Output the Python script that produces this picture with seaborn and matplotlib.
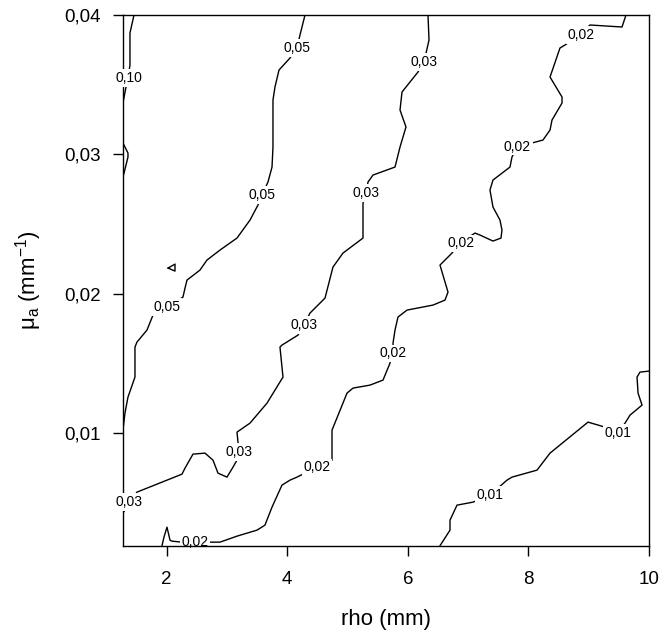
import matplotlib
matplotlib.use("Agg")
import matplotlib.pyplot as plt
import seaborn as sns

# ---------------- data (rho in mm, mu_a in 1/mm) ----------------
x_ticks = [2, 4, 6, 8, 10]
x_tick_labels = ["2", "4", "6", "8", "10"]
y_ticks = [0.01, 0.02, 0.03, 0.04]
y_tick_labels = ["0,01", "0,02", "0,03", "0,04"]

# contour 0.10
c010_x = [1.458, 1.391, 1.391, 1.358, 1.325, 1.275]
c010_y = [0.0400, 0.03871, 0.03641, 0.03548, 0.03483, 0.03369]
c010b_x = [1.275, 1.358, 1.358, 1.292, 1.275]
c010b_y = [0.03082, 0.03010, 0.02981, 0.02866, 0.02840]

# contour 0.05
c005_x = [4.294, 4.211, 4.161, 4.045, 3.863, 3.796, 3.763, 3.763, 3.747, 3.680,
          3.581, 3.514, 3.382, 3.166, 2.884, 2.668, 2.552, 2.337, 2.304, 2.270,
          2.005, 1.773, 1.673, 1.507, 1.474, 1.474, 1.358, 1.308, 1.275]
c005_y = [0.04, 0.038565, 0.037633, 0.036915, 0.036055, 0.034835, 0.033902, 0.030531,
          0.029096, 0.028020, 0.027088, 0.026370, 0.025294, 0.024003, 0.023142,
          0.022425, 0.021707, 0.020990, 0.020416, 0.019771, 0.019053, 0.018479,
          0.017403, 0.016542, 0.016184, 0.014032, 0.012597, 0.011449, 0.010230]
c005t_x = [2.022, 2.138, 2.138, 2.022]
c005t_y = [0.021850, 0.022137, 0.021635, 0.021850]

# contour 0.03
c003_x = [6.334, 6.351, 6.268, 6.168, 5.903, 5.870, 5.969, 5.870, 5.787, 5.422,
          5.339, 5.306, 5.256, 5.256, 4.924, 4.758, 4.626, 4.377, 4.277, 4.178,
          3.912, 3.879, 3.929, 3.664, 3.382, 3.166, 3.199, 3.166, 3.100, 3.000,
          2.851, 2.768, 2.635, 2.436, 2.304, 2.254, 1.507, 1.391, 1.275]
c003_y = [0.04, 0.038207, 0.036628, 0.035911, 0.034476, 0.033185, 0.031966, 0.030531,
          0.029096, 0.028522, 0.028020, 0.027231, 0.026514, 0.024003, 0.022927,
          0.021923, 0.019699, 0.018623, 0.017762, 0.017044, 0.016327, 0.016184,
          0.014032, 0.012166, 0.010732, 0.010086, 0.008651, 0.008077, 0.007575,
          0.006858, 0.007145, 0.008077, 0.008580, 0.008508, 0.007504, 0.007073,
          0.005782, 0.005065, 0.004275]

# contour 0.02
c002_x = [9.618, 9.552, 9.021, 8.855, 8.606, 8.523, 8.358, 8.557, 8.557, 8.391,
          8.358, 8.241, 7.810, 7.727, 7.694, 7.412, 7.362, 7.412, 7.528, 7.561,
          7.545, 7.412, 7.197, 7.114, 6.865, 6.732, 6.566, 6.533, 6.666, 6.616,
          6.417, 5.986, 5.836, 5.787, 5.754, 5.754, 5.704, 5.588, 5.372, 5.090,
          4.991, 4.742, 4.742, 4.493, 4.161, 4.045, 3.912, 3.747, 3.630, 3.498,
          3.166, 2.884, 2.469, 2.254, 2.088, 2.055, 2.005, 1.955, 1.922]
c002_y = [0.04, 0.039139, 0.039283, 0.038565, 0.037848, 0.037633, 0.035552, 0.034118,
          0.033687, 0.032468, 0.031750, 0.031033, 0.030531, 0.029813, 0.029096,
          0.028164, 0.027446, 0.026227, 0.025294, 0.024577, 0.024003, 0.023788,
          0.024218, 0.024362, 0.023644, 0.022927, 0.022209, 0.022066, 0.020129,
          0.019555, 0.019197, 0.018838, 0.018336, 0.017403, 0.016471, 0.015753,
          0.015036, 0.013816, 0.013458, 0.013242, 0.012884, 0.010230, 0.008077,
          0.007575, 0.006858, 0.006643, 0.006284, 0.004706, 0.003415, 0.003056,
          0.002626, 0.002195, 0.002195, 0.002195, 0.002267, 0.002339, 0.003271,
          0.002554, 0.001940]

# contour 0.01
c001_x = [10.0, 9.850, 9.801, 9.818, 9.884, 9.685, 9.602, 9.486, 9.270, 8.988,
          8.358, 8.142, 7.727, 7.644, 7.362, 7.080, 6.815, 6.699, 6.699, 6.533]
c001_y = [0.014462, 0.014390, 0.014032, 0.012884, 0.012023, 0.011306, 0.010732,
          0.010014, 0.010445, 0.010803, 0.008580, 0.007360, 0.006858, 0.006643,
          0.005567, 0.005065, 0.004849, 0.003773, 0.003056, 0.001940]

# contour labels
label_x = [1.375, 4.161, 3.581, 2.005, 6.268, 5.306, 4.277, 3.199, 1.383,
           8.872, 7.818, 6.884, 5.754, 4.497, 2.469, 9.486, 7.362]
label_y = [0.035481, 0.037633, 0.027088, 0.019053, 0.036628, 0.027231, 0.017762,
           0.008651, 0.005065, 0.038565, 0.030555, 0.023622, 0.015729, 0.007551,
           0.002195, 0.010014, 0.005567]
label_text = ["0,10", "0,05", "0,05", "0,05", "0,03", "0,03", "0,03", "0,03", "0,03",
              "0,02", "0,02", "0,02", "0,02", "0,02", "0,02", "0,01", "0,01"]

# ---------------- style ----------------
sns.set_theme(style="ticks")
plt.rcParams["font.family"] = ["Liberation Sans", "DejaVu Sans"]
plt.rcParams["mathtext.fontset"] = "custom"
plt.rcParams["mathtext.rm"] = "Liberation Sans"
plt.rcParams["mathtext.it"] = "Liberation Sans:italic"
plt.rcParams["text.color"] = "black"
plt.rcParams["axes.labelcolor"] = "black"
plt.rcParams["xtick.color"] = "black"
plt.rcParams["ytick.color"] = "black"

fig, ax = plt.subplots(figsize=(6.62, 6.33), dpi=100)
fig.subplots_adjust(left=0.1853, right=0.9804, bottom=0.1379, top=0.9763)

contours = [(c010_x, c010_y), (c010b_x, c010b_y), (c005_x, c005_y),
            (c005t_x, c005t_y), (c003_x, c003_y), (c002_x, c002_y),
            (c001_x, c001_y)]
for cx, cy in contours:
    sns.lineplot(x=cx, y=cy, sort=False, estimator=None, color="black",
                 linewidth=1.0, ax=ax)

for lx, ly, lt in zip(label_x, label_y, label_text):
    z = 2.3 if ly < 0.003 else 3
    ax.text(lx, ly, lt, ha="center", va="center", fontsize=10, zorder=z,
            bbox=dict(boxstyle="square,pad=0.12", fc="white", ec="none"))

ax.set_xlim(1.27, 10)
ax.set_ylim(0.00194, 0.04)
ax.set_xticks(x_ticks)
ax.set_xticklabels(x_tick_labels)
ax.set_yticks(y_ticks)
ax.set_yticklabels(y_tick_labels)
ax.tick_params(direction="out", length=7.5, width=1, labelsize=13.5)
ax.tick_params(axis="x", pad=11)
ax.tick_params(axis="y", pad=8.5)
for s in ax.spines.values():
    s.set_color("black")
    s.set_linewidth(1.0)

ax.set_xlabel("rho (mm)", fontsize=16)
ax.set_ylabel(r"μ$_\mathregular{a}$ (mm$^{\mathregular{-1}}$)", fontsize=16)
ax.xaxis.set_label_coords(0.5, -0.12)
ax.yaxis.set_label_coords(-0.15, 0.5)

fig.savefig("out.png", dpi=100)
